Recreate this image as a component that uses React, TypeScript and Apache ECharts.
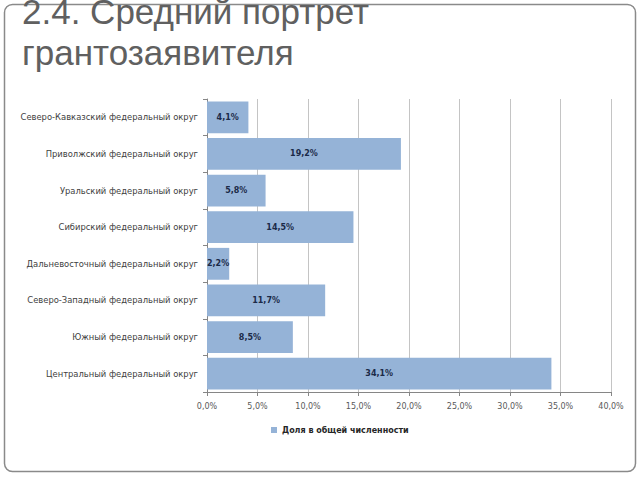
import React, { useEffect, useRef } from "react";
import * as echarts from "echarts";

const titleLines = ["2.4. Средний портрет", "грантозаявителя"];
const categories = [
  "Северо-Кавказский федеральный округ",
  "Приволжский федеральный округ",
  "Уральский федеральный округ",
  "Сибирский федеральный округ",
  "Дальневосточный федеральный округ",
  "Северо-Западный федеральный округ",
  "Южный федеральный округ",
  "Центральный федеральный округ",
];
const values = [4.1, 19.2, 5.8, 14.5, 2.2, 11.7, 8.5, 34.1];
const seriesName = "Доля в общей численности";
const axisMin = 0;
const axisMax = 40;
const axisStep = 5;

const fmt = (v: number) => v.toFixed(1).replace(".", ",") + "%";

export default function App() {
  const ref = useRef<HTMLDivElement>(null);
  useEffect(() => {
    if (!ref.current) return;
    const chart = echarts.init(ref.current, undefined, { renderer: "svg" });
    chart.setOption({
      animation: false,
      backgroundColor: "#ffffff",
      graphic: [
        {
          type: "rect",
          shape: { x: 4.5, y: 4.5, width: 631, height: 467, r: 8 },
          style: { fill: "none", stroke: "#8a8a8a", lineWidth: 1.5 },
          z: 0,
        },
        {
          type: "text",
          x: 22,
          y: 11,
          style: {
            text: titleLines[0],
            font: "35px 'Liberation Sans'",
            fill: "#606060",
            verticalAlign: "middle",
            align: "left",
          },
          z: 10,
        },
        {
          type: "text",
          x: 22,
          y: 52,
          style: {
            text: titleLines[1],
            font: "35px 'Liberation Sans'",
            fill: "#606060",
            verticalAlign: "middle",
            align: "left",
          },
          z: 10,
        },
      ],
      grid: { left: 207, right: 29, top: 99, bottom: 88, containLabel: false },
      legend: {
        data: [seriesName],
        left: 266,
        top: 421,
        icon: "rect",
        itemWidth: 6,
        itemHeight: 6,
        textStyle: {
          fontFamily: "DejaVu Sans",
          fontSize: 8,
          fontWeight: "bold",
          color: "#262626",
        },
      },
      xAxis: {
        type: "value",
        min: axisMin,
        max: axisMax,
        interval: axisStep,
        axisLine: { show: true, lineStyle: { color: "#868686", width: 1 } },
        axisTick: { show: true, length: 4, lineStyle: { color: "#868686" } },
        axisLabel: {
          formatter: (v: number) => fmt(v),
          fontFamily: "DejaVu Sans",
          fontSize: 8,
          color: "#595959",
          margin: 10,
        },
        splitLine: { show: true, lineStyle: { color: "#c4c4c4", width: 1 } },
      },
      yAxis: {
        type: "category",
        data: categories,
        inverse: true,
        axisLine: { show: true, lineStyle: { color: "#868686", width: 1 } },
        axisTick: { show: true, length: 4, lineStyle: { color: "#868686" } },
        axisLabel: {
          fontFamily: "DejaVu Sans",
          fontSize: 8.4,
          color: "#404040",
          margin: 9,
        },
      },
      series: [
        {
          name: seriesName,
          type: "bar",
          data: values,
          barCategoryGap: "13%",
          itemStyle: { color: "#95b3d7" },
          label: {
            show: true,
            position: "inside",
            formatter: (p: any) => fmt(p.value),
            fontFamily: "DejaVu Sans",
            fontSize: 8,
            fontWeight: "bold",
            color: "#1b2a48",
          },
        },
      ],
    });
    return () => chart.dispose();
  }, []);
  return (
    <div
      ref={ref}
      style={{ position: "fixed", left: 0, top: 0, width: 640, height: 480 }}
    />
  );
}
